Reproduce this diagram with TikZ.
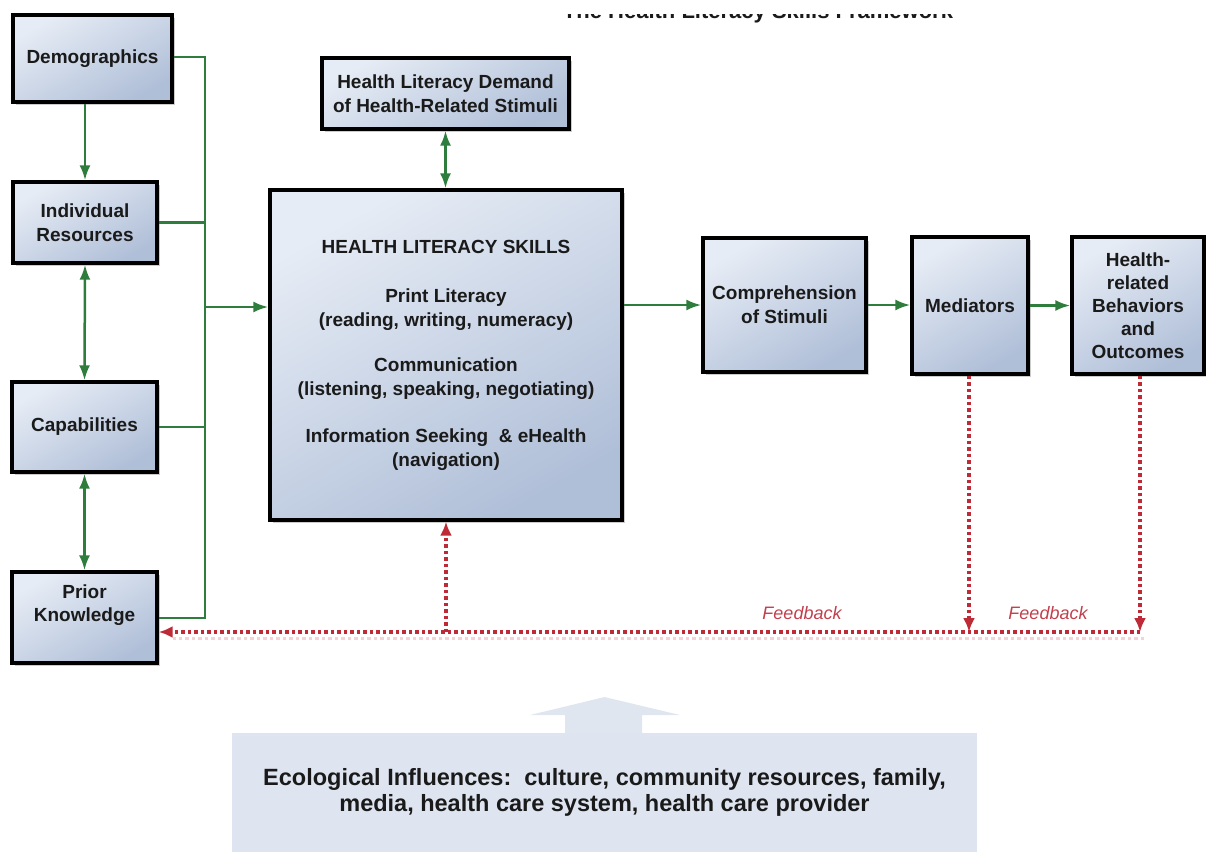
\documentclass[tikz,border=0pt]{standalone}
\usepackage{fontspec}
\setmainfont{Liberation Sans}
\usetikzlibrary{arrows.meta,shadows,calc}
\definecolor{boxtop}{HTML}{E6ECF5}
\definecolor{boxbot}{HTML}{B0BFD8}
\definecolor{gr}{HTML}{2E7D3C}
\definecolor{rd}{HTML}{BE2A36}
\definecolor{rdshadow}{HTML}{F3D3D6}
\definecolor{fbtext}{HTML}{C2404E}
\definecolor{ecoc}{HTML}{DFE5F0}
\definecolor{ecoarrow}{HTML}{E0E6F0}
\definecolor{txt}{HTML}{1A1A1A}
\begin{document}
\begin{tikzpicture}[x=1pt,y=-1pt,
  box/.style={draw=black, line width=3.4pt, top color=boxtop, bottom color=boxbot, shading angle=30,
    drop shadow={shadow xshift=3pt,shadow yshift=-3pt,fill=black,opacity=0.2},
    inner sep=0pt, align=center, text=txt, font=\fontsize{19}{24}\selectfont\bfseries},
  gline/.style={draw=gr, line width=2.5pt},
  garrow/.style={gline, -{Latex[length=15pt,width=11pt]}},
  gboth/.style={gline, {Latex[length=15pt,width=11pt]}-{Latex[length=15pt,width=11pt]}},
  rdot/.style={draw=rd, line width=3.2pt, dash pattern=on 3.5pt off 3pt, -{Latex[length=14pt,width=12pt]}},
  rshadow/.style={draw=rdshadow, line width=3pt, dash pattern=on 3.5pt off 3pt},
  fb/.style={font=\fontsize{18}{20}\selectfont\itshape, text=fbtext},
  ecobox/.style={fill=ecoc, minimum width=745pt, minimum height=119pt, inner sep=0pt, align=center,
    text=txt, font=\fontsize{23.5}{26}\selectfont\bfseries},
  titlef/.style={font=\fontsize{22}{26}\selectfont\bfseries, text=txt, inner sep=0pt}
]
\useasboundingbox (0,0) rectangle (1206,852);

% clipped title at the top
\begin{scope}
  \clip (500,14) rectangle (1010,30);
  \node[titlef, anchor=base] (title) at (758,18) {The Health Literacy Skills Framework};
\end{scope}

% left column
\node[box, minimum width=159pt, minimum height=87pt] (demo) at (92.5,58.5) {Demographics};
\node[box, minimum width=144pt, minimum height=81pt] (ir) at (85,222.5) {Individual\\Resources};
\node[box, minimum width=145pt, minimum height=90pt] (cap) at (84.5,427) {Capabilities};
\node[box, minimum width=145pt, minimum height=91pt] (pk) at (84.5,617.5) {};
\node[align=center, text=txt, font=\fontsize{19}{23}\selectfont\bfseries, inner sep=0pt] (pkt) at (84.5,605) {Prior\\Knowledge};

% centre
\node[box, minimum width=247pt, minimum height=71pt] (demand) at (445.5,93.5) {Health Literacy Demand\\of Health-Related Stimuli};
\node[box, minimum width=352pt, minimum height=330pt] (main) at (446,355) {HEALTH LITERACY SKILLS\\[25pt]
Print Literacy\\(reading, writing, numeracy)\\[21pt]
Communication\\(listening, speaking, negotiating)\\[23pt]
Information Seeking \ \& eHealth\\(navigation)};

% right
\node[box, minimum width=163pt, minimum height=134pt] (comp) at (784.5,305) {Comprehension\\of Stimuli};
\node[box, minimum width=116pt, minimum height=137pt] (med) at (970,305.5) {Mediators};
\node[box, minimum width=132pt, minimum height=137pt, font=\fontsize{19}{23}\selectfont\bfseries] (health) at (1138,305.5) {Health-\\related\\Behaviors\\and\\Outcomes};

% green bus on the left
\coordinate (bt) at (205,57);
\coordinate (bb) at (205,618);
\coordinate (bj) at (205,307);
\draw[gline] (demo.east |- bt) -- (bt) -- (bb) -- (pk.east |- bb);
\draw[gline] (ir.east) -- (ir.east -| bt);
\draw[gline] (cap.east) -- (cap.east -| bt);
\draw[garrow] (bj) -- (bj -| main.west);

% vertical arrows in left column
\draw[garrow] (ir.north |- demo.south) -- (ir.north);
\draw[gboth] (ir.south) -- (cap.north);
\draw[gboth] (cap.south) -- (pk.north);

% demand <-> skills
\draw[gboth] (demand.south) -- (main.north -| demand.south);

% chain to the right
\draw[garrow] (comp.west -| main.east) -- (comp.west);
\draw[garrow] (comp.east) -- (comp.east -| med.west);
\draw[garrow] (med.east) -- (med.east -| health.west);

% feedback (red dotted)
\coordinate (fbR) at (1140,632);
\coordinate (fbM) at (969,632);
\coordinate (fbS) at (446,632);
\draw[rshadow] ($(fbR)+(4,6)$) -- ($(fbR -| pk.east)+(14,6)$);
\draw[rdot] (med.south -| fbM) -- (fbM);
\draw[rdot] (health.south -| fbR) -- (fbR);
\draw[rdot] (fbR) -- (fbR -| pk.east);
\draw[rdot] (fbS) -- (fbS |- main.south);
\node[fb] (fb1) at (802,613) {Feedback};
\node[fb] (fb2) at (1048,613) {Feedback};

% ecological influences
\fill[ecoarrow] (565,734) -- (565,715) -- (530,715) -- (604.5,697) -- (680,715) -- (642,715) -- (642,734) -- cycle;
\node[ecobox] (eco) at (604.5,792.5) {Ecological Influences:\ \ culture, community resources, family,\\media, health care system, health care provider};
\end{tikzpicture}
\end{document}
